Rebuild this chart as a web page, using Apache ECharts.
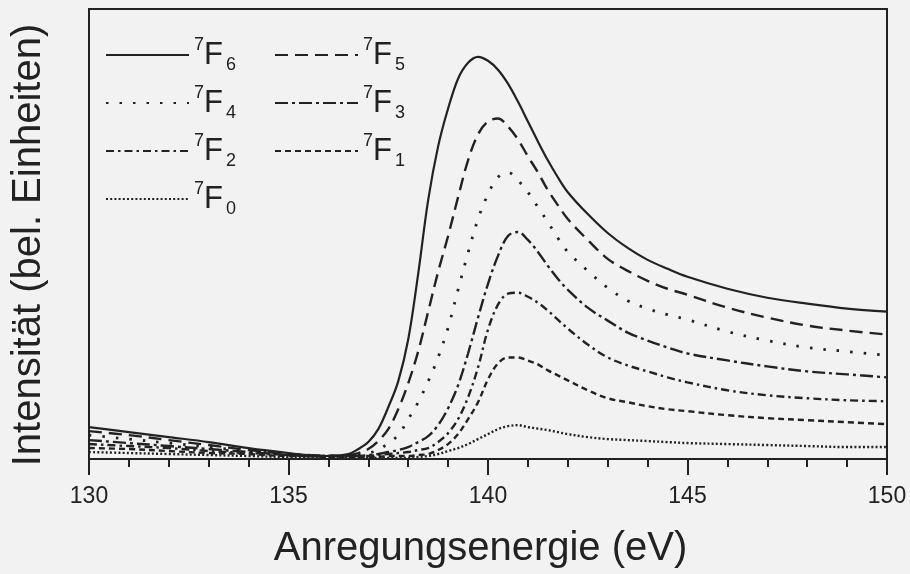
<!DOCTYPE html>
<html>
<head>
<meta charset="utf-8">
<script src="https://cdn.jsdelivr.net/npm/echarts@6/dist/echarts.min.js"></script>
<style>
html,body{margin:0;padding:0;background:#f2f2f2;}
#c{width:910px;height:574px;}
</style>
</head>
<body>
<div id="c"></div>
<script>
// Excitation energy (eV)
const energy = [130,131,132,133,134,135,135.5,136,136.5,136.75,137,137.25,137.5,137.75,138,138.25,138.5,138.75,139,139.25,139.5,139.75,140,140.25,140.5,140.75,141,141.25,141.5,141.75,142,142.5,143,143.5,144,144.5,145,146,147,148,149,150];
// Intensities (arbitrary units) per final state
const F6 = [32,27,22,17,11,6,4,3,5,10,17,30,52,78,120,186,260,314,352,382,398,404,400,391,377,359,339,319,300,283,268,246,227,212,200,191,183,171,162,156,151,148];
const F5 = [28,24,19,14,9,5,4,3,4,6,10,18,30,50,76,108,148,188,224,263,300,326,339,342,334,321,304,288,270,255,241,220,201,189,179,171,165,152,142,134,129,125];
const F4 = [24,20,16,12,8,5,3,3,3,4,6,9,16,24,40,57,78,102,132,170,207,241,266,283,288,280,268,253,238,222,208,189,172,159,151,145,140,128,119,112,108,104];
const F3 = [19,16,13,10,7,4,3,3,3,3,4,5,7,9,12,17,23,34,51,74,106,142,176,204,224,228,220,208,194,181,170,152,139,127,119,112,106,99,93,88,85,82];
const F2 = [15,13,11,8,6,4,3,3,3,3,3,4,5,6,7,9,11,17,26,40,62,92,130,155,166,167,163,157,149,140,131,115,102,94,88,82,77,69,64,61,59,58];
const F1 = [11,10,8,6,5,3,3,2,2,2,2,2,3,3,3,4,5,9,15,25,40,57,80,96,102,102,99,95,89,84,79,69,61,57,53,50,48,44,41,39,37,35];
const F0 = [7,6,5,4,3,2,2,2,1,1,1,1,1,1,1,2,3,5,8,11,15,20,25,30,33,34,32,30.5,29,27,25,22,20,19,18,17,16,15,14,13,12,12];
const seriesNames = ['7F6','7F5','7F4','7F3','7F2','7F1','7F0'];
const xTicks = [130,135,140,145,150];

const ink = '#222';
const styles = [
  {type:'solid', width:2.2},
  {type:[13,7], width:2.4},
  {type:[2.5,11], width:2.8},
  {type:[13,4,3,4], width:2.4},
  {type:[8,4,2.5,4], width:2.4},
  {type:[6,4], width:2.4},
  {type:[2,2.2], width:2.4}
];
const vals = [F6,F5,F4,F3,F2,F1,F0];

const chart = echarts.init(document.getElementById('c'), null, {renderer:'canvas'});
const series = vals.map((v,k)=>({
  name: seriesNames[k],
  type:'line',
  data: energy.map((e,i)=>[e,v[i]]),
  symbol:'none',
  smooth:0.35,
  lineStyle:{color:ink, width:styles[k].width, type:styles[k].type},
  itemStyle:{color:ink},
  z: 3
}));

const legendFmt = n => '{s|' + n[0] + '}{f|F}{b|' + n.slice(2) + '}';
const legendRich = {
  s:{fontSize:18, color:ink, fontFamily:'Liberation Sans', lineHeight:14, verticalAlign:'top', padding:[0,0,18,0]},
  f:{fontSize:31, color:ink, fontFamily:'Liberation Sans', lineHeight:38},
  b:{fontSize:18, color:ink, fontFamily:'Liberation Sans', lineHeight:10, verticalAlign:'bottom', padding:[28,0,0,3]}
};
const legendBase = {
  orient:'vertical', top:23, itemWidth:83, itemHeight:14, itemGap:2,
  formatter: legendFmt,
  textStyle:{rich:legendRich, color:ink},
  itemStyle:{opacity:0},
  inactiveColor:'#999'
};

chart.setOption({
  backgroundColor:'#f2f2f2',
  animation:false,
  grid:{left:89, right:23, top:9, bottom:113, show:true, borderColor:ink, borderWidth:2, backgroundColor:'transparent'},
  legend:[
    Object.assign({}, legendBase, {left:100, data:['7F6','7F4','7F2','7F0']}),
    Object.assign({}, legendBase, {left:269, data:['7F5','7F3','7F1']})
  ],
  xAxis:{
    type:'value', min:130, max:150, interval:5,
    name:'Anregungsenergie (eV)', nameLocation:'middle', nameGap:70,
    nameTextStyle:{fontSize:40, color:ink, fontFamily:'Liberation Sans', padding:[0,15,0,0]},
    axisLine:{show:true, lineStyle:{color:ink, width:2}},
    axisTick:{show:true, length:16, lineStyle:{color:ink, width:2}},
    minorTick:{show:true, splitNumber:5, length:8, lineStyle:{color:ink, width:2}},
    axisLabel:{fontSize:23, color:ink, fontFamily:'Liberation Sans', margin:26,
      formatter: v => xTicks.includes(v) ? String(v) : ''},
    splitLine:{show:false}, minorSplitLine:{show:false}
  },
  yAxis:{
    type:'value', min:0, max:452,
    name:'Intensität (bel. Einheiten)', nameLocation:'middle', nameGap:40,
    nameTextStyle:{fontSize:40, color:ink, fontFamily:'Liberation Sans', padding:[0,22,0,0]},
    axisLine:{show:true, lineStyle:{color:ink, width:2}},
    axisTick:{show:false}, axisLabel:{show:false}, splitLine:{show:false}
  },
  series: series
});
</script>
</body>
</html>
